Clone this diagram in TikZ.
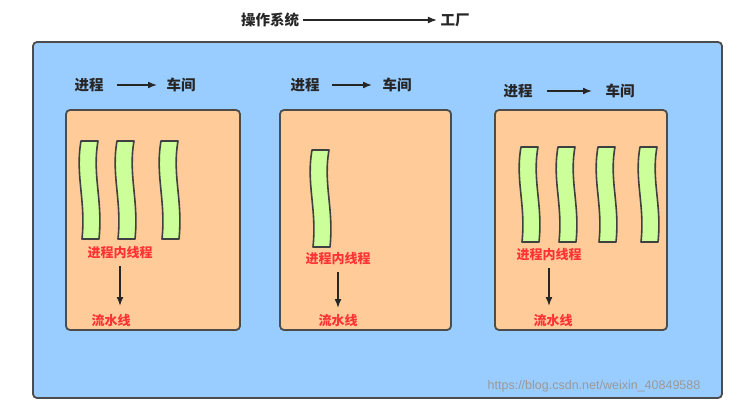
\documentclass[tikz,border=0pt]{standalone}
\usepackage{fontspec}
\setmainfont{Noto Sans CJK SC}[BoldFont={* Bold}]
\newfontfamily\cjk{Noto Sans CJK SC}
\newfontfamily\wm{Liberation Sans}
\usetikzlibrary{arrows.meta}
\definecolor{bluebg}{HTML}{99CCFF}
\definecolor{orangebg}{HTML}{FFCC99}
\definecolor{thr}{HTML}{CCFF99}
\definecolor{redt}{HTML}{FF3333}
\tikzset{
  lbl/.style={font=\cjk\bfseries\fontsize{14.5}{16}\selectfont, text=black!85},
  red/.style={font=\cjk\bfseries\fontsize{13}{15}\selectfont, text=redt},
  ar/.style={-{Latex[length=9pt,width=7pt]}, line width=1.6pt, black!85},
  panel/.style={draw=black!70, line width=1.8pt, fill=orangebg, rounded corners=4pt},
  thread/.style={draw=black!75, line width=1.6pt, fill=thr, line join=round}
}
\newcommand{\thread}[3]{% x, top y, bottom y
  \draw[thread] (#1,#2) -- ++(17,0)
    .. controls ++(-6,{(#3-#2)*0.35}) and ++(4,{-(#3-#2)*0.4}) .. (#1+18,#3)
    -- (#1+1,#3)
    .. controls ++(4,{-(#3-#2)*0.4}) and ++(-6,{(#3-#2)*0.35}) .. (#1,#2) -- cycle;}
\begin{document}
\begin{tikzpicture}[x=1pt,y=-1pt]
\useasboundingbox (0,0) rectangle (737,405);
\fill[white] (0,0) rectangle (737,405);
\node[lbl] (os) at (270,20) {操作系统};
\node[lbl] (fac) at (455,20) {工厂};
\draw[ar] (os.east) -- (fac.west);
\draw[draw=black!70, line width=1.8pt, fill=bluebg, rounded corners=4pt] (33,42) rectangle (722,398);
% panels
\draw[panel] (66,110) rectangle (240,330);
\draw[panel] (280,110) rectangle (451,330);
\draw[panel] (495,110) rectangle (667,330);
% headers
\node[lbl] (p1) at (89,85) {进程}; \node[lbl] (c1) at (181,85) {车间}; \draw[ar] (117,85) -- (157,85);
\node[lbl] (p2) at (305,85) {进程}; \node[lbl] (c2) at (397,85) {车间}; \draw[ar] (332,85) -- (372,85);
\node[lbl] (p3) at (518,91) {进程}; \node[lbl] (c3) at (620,91) {车间}; \draw[ar] (547,91) -- (592,91);
% threads
\thread{81}{141}{239}\thread{117}{141}{239}\thread{161}{141}{239}
\thread{312}{150}{247}
\thread{521}{147}{242}\thread{558}{147}{242}\thread{598}{147}{242}\thread{640}{147}{242}
% red texts
\node[red] (t1) at (120,253) {进程内线程};
\node[red] (l1) at (111,321) {流水线};
\draw[ar] (120,266) -- (120,306);
\node[red] (t2) at (338,259) {进程内线程};
\node[red] (l2) at (338,321) {流水线};
\draw[ar] (338,272) -- (338,308);
\node[red] (t3) at (549,255) {进程内线程};
\node[red] (l3) at (553,321) {流水线};
\draw[ar] (549,268) -- (549,306);
\node[font=\wm\fontsize{12.5}{14}\selectfont, text=gray!80] (wm) at (594,386) {https://blog.csdn.net/weixin\_40849588};
\end{tikzpicture}
\end{document}
